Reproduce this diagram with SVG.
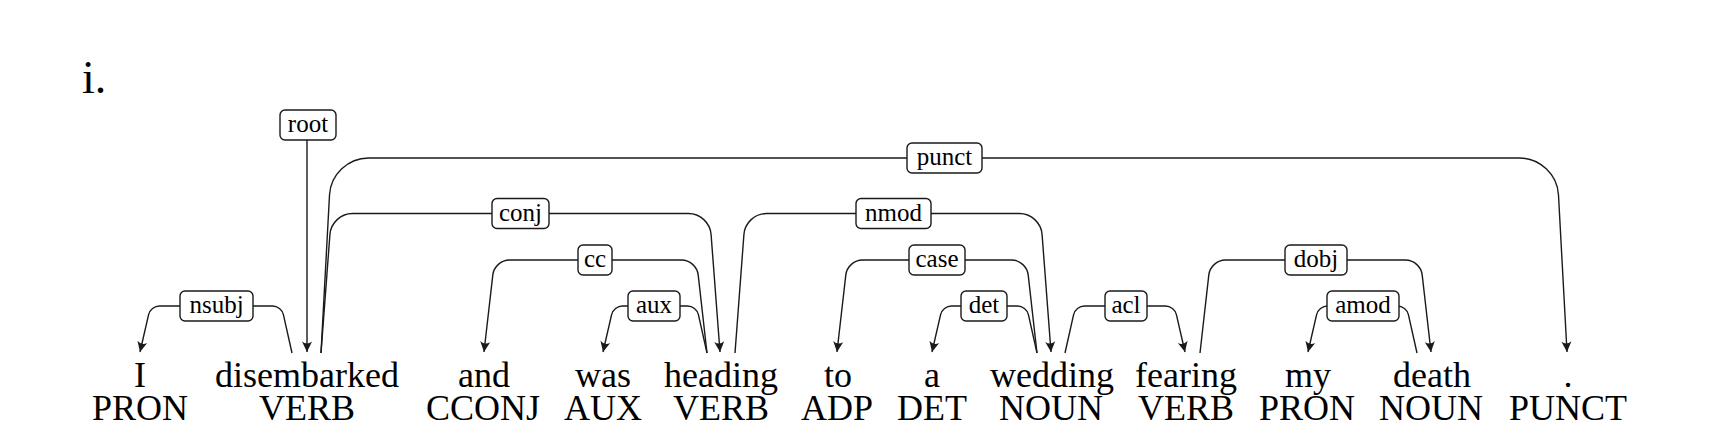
<svg xmlns="http://www.w3.org/2000/svg" width="1723" height="448" viewBox="0 0 1723 448">
<style>
.w{font-family:"Liberation Serif","Times New Roman",serif;font-size:36px;fill:#000;text-anchor:middle}
.lbl{font-family:"Liberation Serif","Times New Roman",serif;font-size:25px;fill:#000;text-anchor:middle}
.e{fill:none;stroke:#1a1a1a;stroke-width:1.4;marker-end:url(#arr)}
.box{fill:#fff;stroke:#1a1a1a;stroke-width:1.4}
</style>
<defs>
<marker id="arr" viewBox="-11 -6 12 12" markerWidth="12" markerHeight="12" refX="0" refY="0" orient="auto" markerUnits="userSpaceOnUse">
<path d="M0,0 L-10.5,-5 Q-6.5,0 -10.5,5 Z" fill="#1a1a1a"/>
</marker>
</defs>
<rect width="1723" height="448" fill="#fff"/>
<text x="82" y="93" font-family="Liberation Serif, serif" font-size="46">i.</text>

<g id="tokens">
<g id="t1"><text class="w" x="140" y="387">I</text><text class="w" x="140" y="420">PRON</text></g>
<g id="t2"><text class="w" x="307" y="387">disembarked</text><text class="w" x="307" y="420">VERB</text></g>
<g id="t3"><text class="w" x="484" y="387">and</text><text class="w" x="483" y="420">CCONJ</text></g>
<g id="t4"><text class="w" x="603" y="387">was</text><text class="w" x="603" y="420">AUX</text></g>
<g id="t5"><text class="w" x="721" y="387">heading</text><text class="w" x="721" y="420">VERB</text></g>
<g id="t6"><text class="w" x="838" y="387">to</text><text class="w" x="837" y="420">ADP</text></g>
<g id="t7"><text class="w" x="932" y="387">a</text><text class="w" x="932" y="420">DET</text></g>
<g id="t8"><text class="w" x="1052" y="387">wedding</text><text class="w" x="1051" y="420">NOUN</text></g>
<g id="t9"><text class="w" x="1186" y="387">fearing</text><text class="w" x="1186" y="420">VERB</text></g>
<g id="t10"><text class="w" x="1308" y="387">my</text><text class="w" x="1307" y="420">PRON</text></g>
<g id="t11"><text class="w" x="1432" y="387">death</text><text class="w" x="1431" y="420">NOUN</text></g>
<g id="t12"><text class="w" x="1568" y="387">.</text><text class="w" x="1568" y="420">PUNCT</text></g>
</g>

<g id="connectors">
<g id="root"><path class="e" d="M307,140 L307,352"/><rect class="box" x="280" y="110" width="56" height="30" rx="5"/><text class="lbl" x="308" y="132">root</text></g>
<g id="nsubj"><path class="e" d="M292,353 L283.46,314.78 C282.38,309.93 277.47,306 272.5,306 L159.5,306 C154.53,306 149.62,309.93 148.54,314.78 L140,352"/><rect class="box" x="180" y="291" width="73" height="30" rx="5"/><text class="lbl" x="216.5" y="313">nsubj</text></g>
<g id="punct"><path class="e" d="M321,353 L329.51,194.95 C330.61,174.54 348.06,158 368.5,158 L1519.5,158 C1539.94,158 1557.39,174.54 1558.49,194.95 L1567,352"/><rect class="box" x="907" y="143" width="75" height="30" rx="5"/><text class="lbl" x="944.5" y="165">punct</text></g>
<g id="conj"><path class="e" d="M321,353 L329.92,234.44 C330.79,222.87 340.9,213.5 352.5,213.5 L688.5,213.5 C700.1,213.5 710.21,222.87 711.08,234.44 L720,352"/><rect class="box" x="492" y="198.5" width="57" height="30" rx="5"/><text class="lbl" x="520.5" y="220.5">conj</text></g>
<g id="cc"><path class="e" d="M707,353 L698.18,274.9 C697.25,266.67 689.78,260 681.5,260 L509.5,260 C501.22,260 493.75,266.67 492.82,274.9 L484,352"/><rect class="box" x="578" y="245" width="34" height="30" rx="5"/><text class="lbl" x="595" y="267">cc</text></g>
<g id="aux"><path class="e" d="M707,353 L698.46,314.78 C697.38,309.93 692.47,306 687.5,306 L622.5,306 C617.53,306 612.62,309.93 611.54,314.78 L603,352"/><rect class="box" x="628" y="291" width="52" height="30" rx="5"/><text class="lbl" x="654" y="313">aux</text></g>
<g id="nmod"><path class="e" d="M735,353 L743.92,234.44 C744.79,222.87 754.9,213.5 766.5,213.5 L1019.5,213.5 C1031.1,213.5 1041.21,222.87 1042.08,234.44 L1051,352"/><rect class="box" x="856" y="198.5" width="75" height="30" rx="5"/><text class="lbl" x="893.5" y="220.5">nmod</text></g>
<g id="case"><path class="e" d="M1037,353 L1028.18,274.9 C1027.25,266.67 1019.78,260 1011.5,260 L862.5,260 C854.22,260 846.75,266.67 845.82,274.9 L837,352"/><rect class="box" x="909" y="245" width="56" height="30" rx="5"/><text class="lbl" x="937" y="267">case</text></g>
<g id="det"><path class="e" d="M1037,353 L1028.46,314.78 C1027.38,309.93 1022.47,306 1017.5,306 L951.5,306 C946.53,306 941.62,309.93 940.54,314.78 L932,352"/><rect class="box" x="961" y="291" width="46" height="30" rx="5"/><text class="lbl" x="984" y="313">det</text></g>
<g id="acl"><path class="e" d="M1065,353 L1073.54,314.78 C1074.62,309.93 1079.53,306 1084.5,306 L1165.5,306 C1170.47,306 1175.38,309.93 1176.46,314.78 L1185,352"/><rect class="box" x="1105" y="291" width="42" height="30" rx="5"/><text class="lbl" x="1126" y="313">acl</text></g>
<g id="dobj"><path class="e" d="M1200,353 L1208.82,274.9 C1209.75,266.67 1217.22,260 1225.5,260 L1405.5,260 C1413.78,260 1421.25,266.67 1422.18,274.9 L1431,352"/><rect class="box" x="1285" y="245" width="62" height="30" rx="5"/><text class="lbl" x="1316" y="267">dobj</text></g>
<g id="amod"><path class="e" d="M1417,353 L1408.46,314.78 C1407.38,309.93 1402.47,306 1397.5,306 L1327.5,306 C1322.53,306 1317.62,309.93 1316.54,314.78 L1308,352"/><rect class="box" x="1327" y="291" width="72" height="30" rx="5"/><text class="lbl" x="1363" y="313">amod</text></g>
</g>
</svg>
